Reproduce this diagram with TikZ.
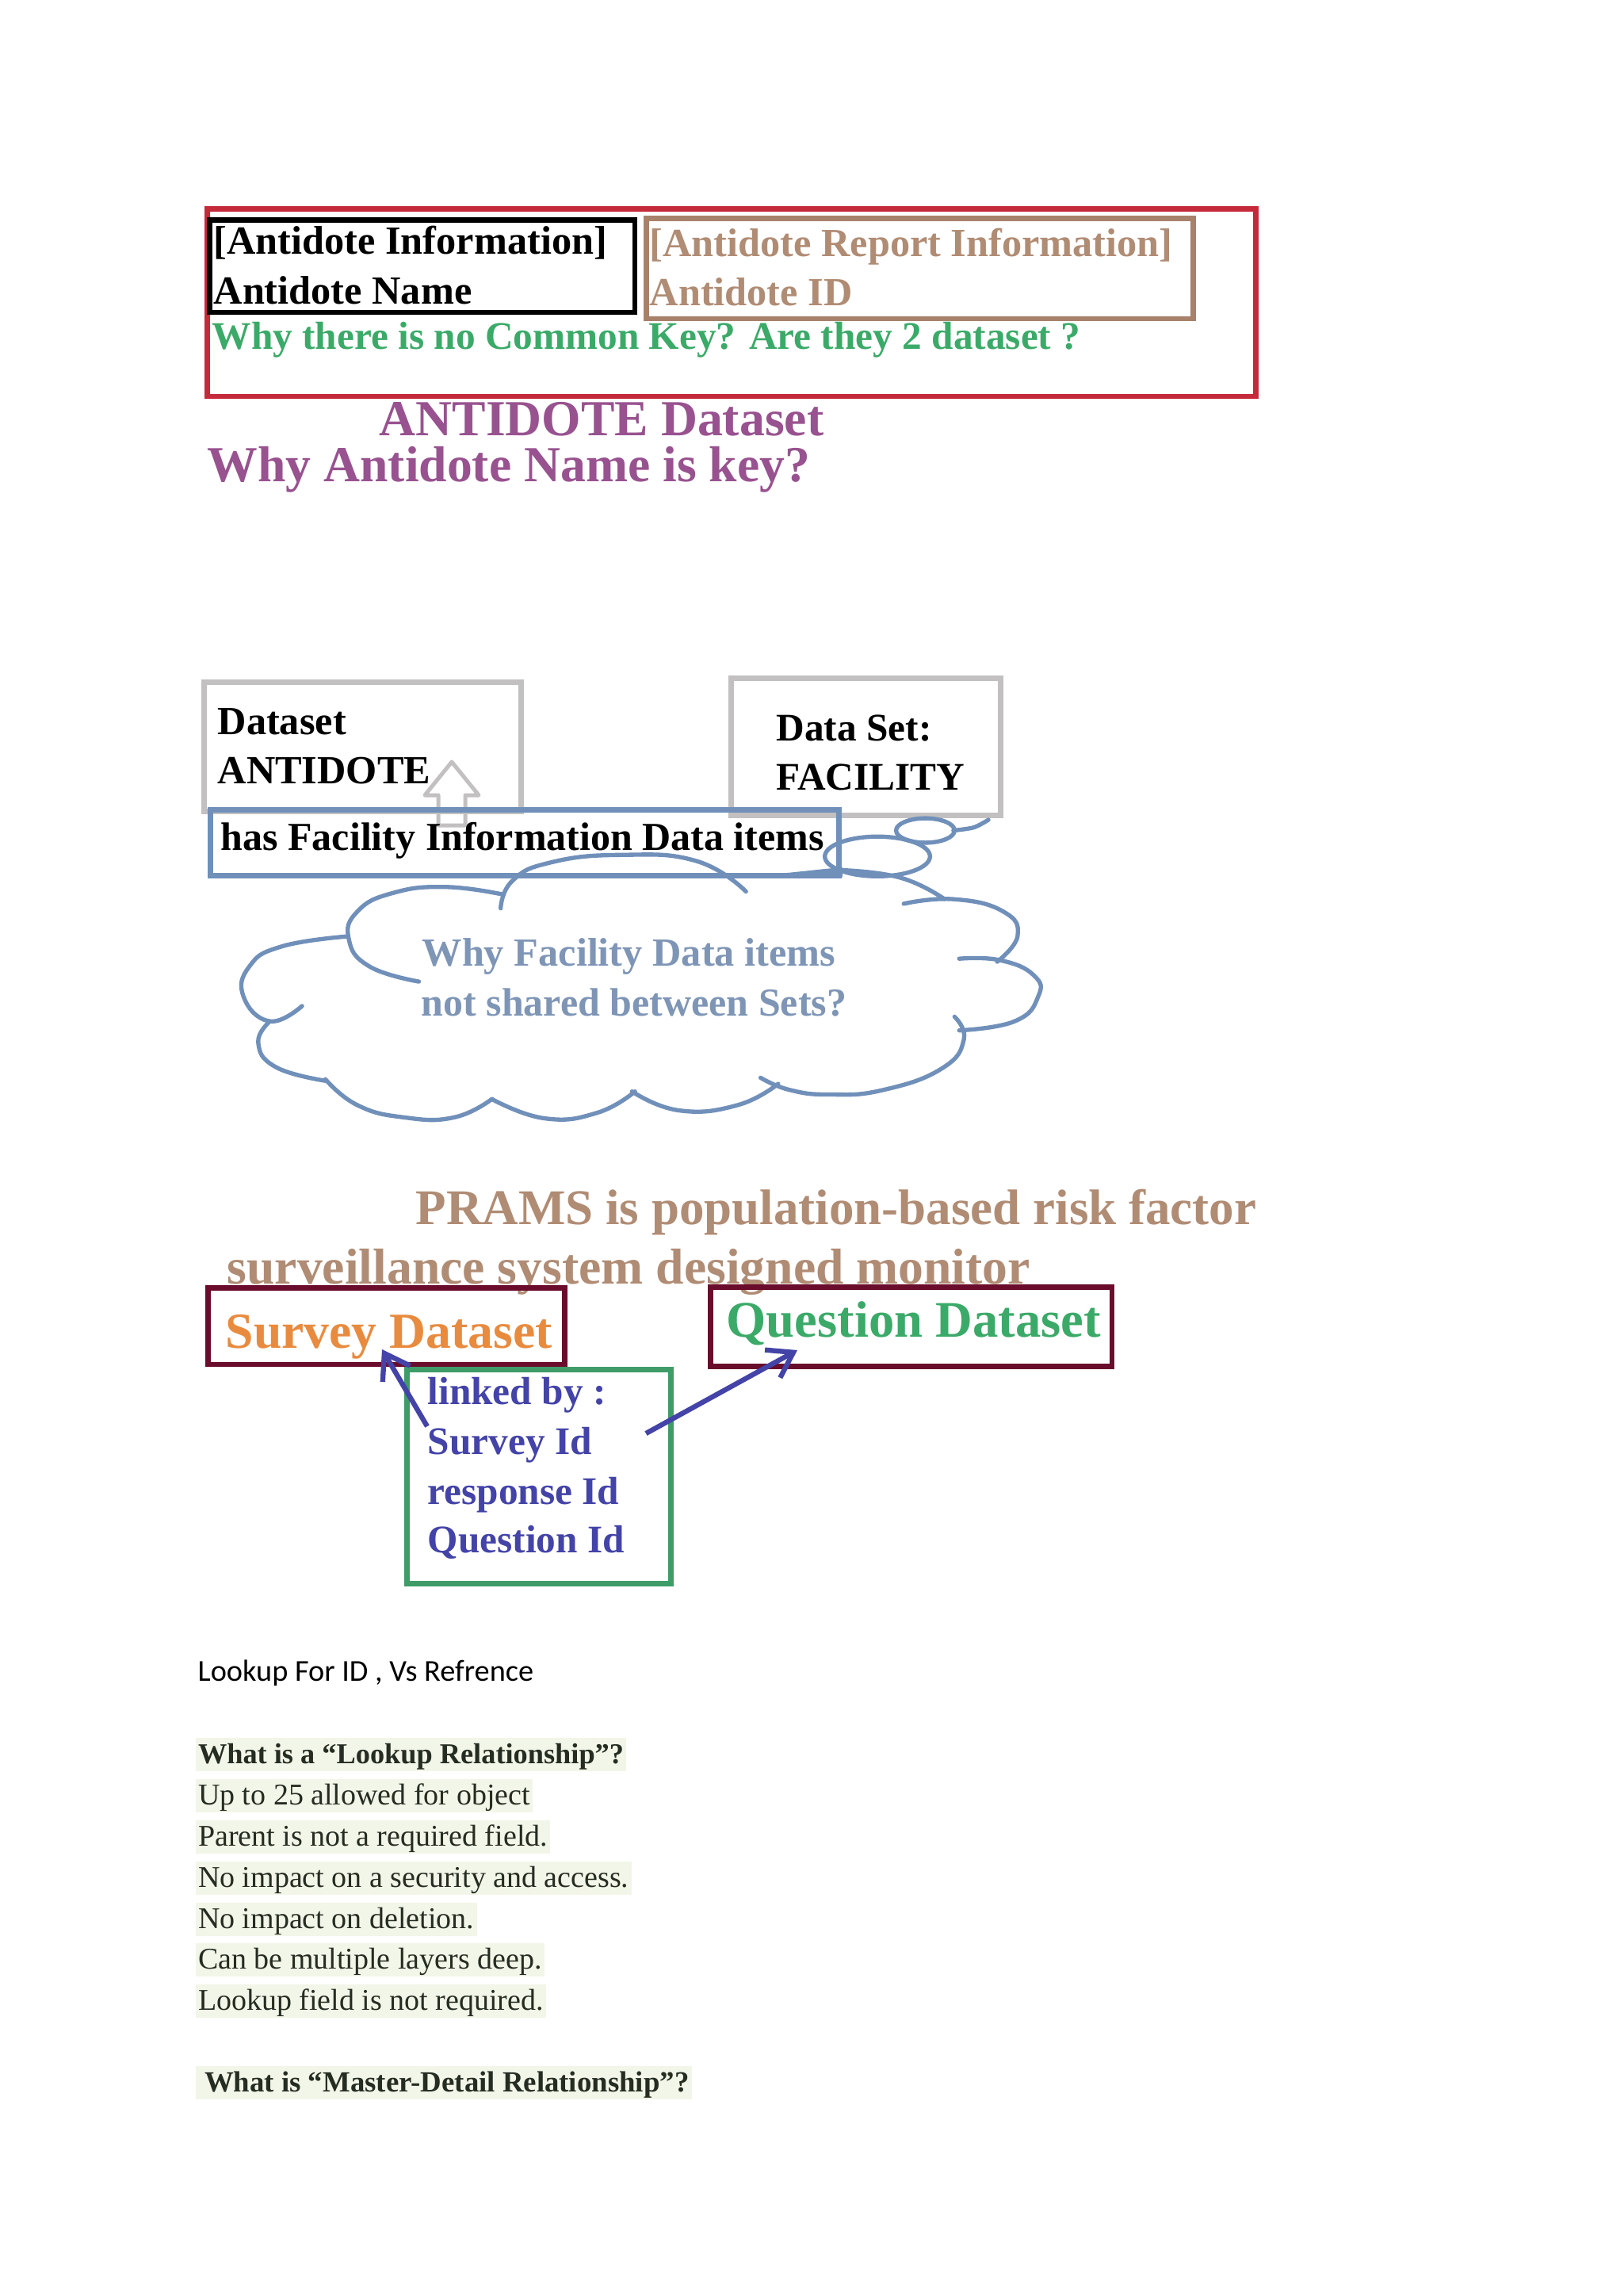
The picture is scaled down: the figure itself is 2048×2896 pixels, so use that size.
\documentclass[tikz,border=0pt]{standalone}
\usepackage{fontspec}
\setmainfont{Liberation Serif}
\newfontfamily\bodyfont{Carlito}
\usetikzlibrary{arrows.meta}
\definecolor{redline}{HTML}{C42A3A}
\definecolor{brownline}{HTML}{A8816A}
\definecolor{greyline}{HTML}{C2C0C0}
\definecolor{blueline}{HTML}{7090BA}
\definecolor{maroonline}{HTML}{6A0C2C}
\definecolor{greenline}{HTML}{3F9C68}
\definecolor{browntext}{HTML}{B08C74}
\definecolor{greentext}{HTML}{3BAA68}
\definecolor{purpletext}{HTML}{98528F}
\definecolor{cloudtext}{HTML}{7E95B6}
\definecolor{orangetext}{HTML}{E88B3F}
\definecolor{linkblue}{HTML}{4343A8}
\definecolor{band}{HTML}{F2F6E8}
\definecolor{bandtext}{HTML}{252C22}
\tikzset{
  box/.style={draw,line width=2pt,inner sep=0pt,anchor=north west},
  label/.style={anchor=base west,inner sep=0pt,font=\fontsize{15.1}{18}\selectfont\bfseries},
  smalllabel/.style={label,font=\fontsize{14.8}{18}\selectfont\bfseries},
  biglabel/.style={label,font=\fontsize{19.1}{22}\selectfont\bfseries},
  bandline/.style={anchor=base west,fill=band,text=bandtext,inner xsep=1pt,inner ysep=0pt,
    text height=9.5pt,text depth=2.9pt,font=\fontsize{11.4}{13}\selectfont},
  bandhead/.style={bandline,font=\fontsize{10.9}{13}\selectfont\bfseries},
  cloudline/.style={draw=blueline,line width=1.6pt,line cap=round},
  linkarrow/.style={-{Straight Barb[length=9pt,width=12pt]},linkblue,line width=1.9pt}
}
\begin{document}
\begin{tikzpicture}[x=0.3pt,y=-0.3pt]
  \useasboundingbox (0,0) rectangle (2048,2896);
  % top boxes
  \node[box,draw=redline,minimum width=397pt,minimum height=71pt] (redbox) at (258,260) {};
  \node[box,draw=black,minimum width=161pt,minimum height=35pt] (namebox) at (261,274) {};
  \node[box,draw=brownline,minimum width=207pt,minimum height=38pt] (idbox) at (812,272) {};
  \node[label] (info) at (269,321) {[Antidote Information]};
  \node[label] (name) at (269,384) {Antidote Name};
  \node[label,text=browntext] (report) at (819,324) {[Antidote Report Information]};
  \node[label,text=browntext] (antid) at (819,386) {Antidote ID};
  \node[smalllabel,text=greentext] (why) at (267,441) {Why there is no Common Key? Are they 2 dataset ?};
  \node[biglabel,text=purpletext] (antidote) at (478,550) {ANTIDOTE Dataset};
  \node[biglabel,text=purpletext] (whykey) at (261,607) {Why Antidote Name is key?};
  % dataset boxes
  \node[box,draw=greyline,minimum width=120pt,minimum height=49pt] (setone) at (254,857) {};
  \node[box,draw=greyline,minimum width=102pt,minimum height=52pt] (settwo) at (919,852) {};
  \node[label] (dataset) at (274,926) {Dataset};
  \node[label] (antibig) at (274,988) {ANTIDOTE};
  \node[smalllabel] (dataset2) at (979,934) {Data Set:};
  \node[smalllabel] (facility) at (979,996) {FACILITY};
  \draw[greyline,line width=1.5pt,line join=round] (570,961) -- (604,1003) -- (587,1003) -- (587,1041)
    -- (553,1041) -- (553,1003) -- (536,1003) -- cycle;
  \node[box,draw=blueline,minimum width=238pt,minimum height=25pt] (hasbox) at (262,1018) {};
  \node[smalllabel,font=\fontsize{15}{18}\selectfont\bfseries] (has) at (278,1072) {has Facility Information Data items};
  % cloud
  \begin{scope}[shift={(230,830)},xscale=0.737,yscale=0.385]
    \draw[cloudline] plot[smooth,tension=0.8] coordinates {(405,1060) (320,1010) (285,920) (300,830) (360,770) (450,750) (550,775)};
    \draw[cloudline] plot[smooth,tension=0.8] coordinates {(545,820) (565,730) (630,670) (750,645) (880,665) (965,765)};
    \draw[cloudline] plot[smooth,tension=0.8] coordinates {(1130,695) (1230,720) (1305,790)};
    \draw[cloudline] plot[smooth,tension=0.8] coordinates {(1235,805) (1320,790) (1405,830) (1430,910) (1395,995)};
    \draw[cloudline] plot[smooth,tension=0.8] coordinates {(1330,985) (1400,990) (1458,1040) (1465,1110) (1425,1190) (1330,1220)};
    \draw[cloudline] plot[smooth,tension=0.8] coordinates {(1322,1175) (1338,1250) (1300,1345) (1200,1415) (1110,1430) (1040,1415) (990,1375)};
    \draw[cloudline] plot[smooth,tension=0.8] coordinates {(1020,1395) (950,1465) (850,1482) (770,1420)};
    \draw[cloudline] plot[smooth,tension=0.8] coordinates {(775,1420) (710,1490) (620,1508) (530,1445)};
    \draw[cloudline] plot[smooth,tension=0.8] coordinates {(530,1445) (465,1505) (380,1505) (300,1465) (245,1380)};
    \draw[cloudline] plot[smooth,tension=0.8] coordinates {(245,1385) (160,1340) (130,1260) (150,1190)};
    \draw[cloudline] plot[smooth,tension=0.8] coordinates {(205,1140) (150,1190) (105,1110) (115,1010) (170,945) (282,912)};
    \draw[cloudline] (1190,650) ellipse [x radius=90,y radius=65];
    \draw[cloudline] (1272,565) ellipse [x radius=50,y radius=40];
    \draw[cloudline] plot[smooth] coordinates {(1320,565) (1355,555) (1380,530)};
    \fill[blueline] (945,722) -- (1130,685) -- (1130,718) -- cycle;
  \end{scope}
  \node[label,text=cloudtext] (whyfac) at (532,1218) {Why Facility Data items};
  \node[smalllabel,font=\fontsize{15}{18}\selectfont\bfseries,text=cloudtext] (notsh) at (531,1281) {not shared between Sets?};
  % prams
  \node[biglabel,font=\fontsize{18.9}{22}\selectfont\bfseries,text=browntext] (prams) at (524,1544) {PRAMS is population-based risk factor};
  \node[biglabel,text=browntext] (surv) at (286,1619) {surveillance system designed monitor};
  \node[box,draw=maroonline,minimum width=135pt,minimum height=29pt] (surveybox) at (259,1621) {};
  \node[box,draw=maroonline,minimum width=152pt,minimum height=30pt] (questbox) at (893,1620) {};
  \node[biglabel,text=orangetext] (survey) at (284,1700) {Survey Dataset};
  \node[biglabel,text=greentext,font=\fontsize{19.4}{22}\selectfont\bfseries] (quest) at (916,1686) {Question Dataset};
  \node[box,draw=greenline,minimum width=100pt,minimum height=81pt] (linkbox) at (510,1724) {};
  \node[smalllabel,text=linkblue] (linked) at (539,1771) {linked by :};
  \node[smalllabel,text=linkblue] (surveyid) at (539,1834) {Survey Id};
  \node[smalllabel,text=linkblue] (respid) at (539,1897) {response Id};
  \node[smalllabel,text=linkblue] (questid) at (539,1958) {Question Id};
  \coordinate (surveyend) at (482,1702);
  \coordinate (questend) at (1006,1703);
  \coordinate (linkout) at (815,1808);
  \draw[linkarrow] (surveyid.north west) -- (surveyend);
  \draw[linkarrow] (linkout) -- (questend);
  % lookup text
  \node[anchor=base west,inner sep=0pt,font=\bodyfont\fontsize{11.5}{14}\selectfont] (lookup) at (249,2120) {Lookup For ID , Vs Refrence};
  \node[bandhead] (lookq) at (246,2224) {What is a “Lookup Relationship”?};
  \foreach \y/\txt/\nm in {2276/Up to 25 allowed for object/a,2328/Parent is not a required field./b,2380/No impact on a security and access./c,
    2432/No impact on deletion./d,2483/Can be multiple layers deep./e,2535/Lookup field is not required./f}
    \node[bandline] (item\nm) at (246,\y) {\txt};
  \node[bandhead,font=\fontsize{11.05}{13}\selectfont\bfseries] (masterq) at (246,2638) {\hspace*{2.4pt}What is “Master-Detail Relationship”?};
\end{tikzpicture}
\end{document}
